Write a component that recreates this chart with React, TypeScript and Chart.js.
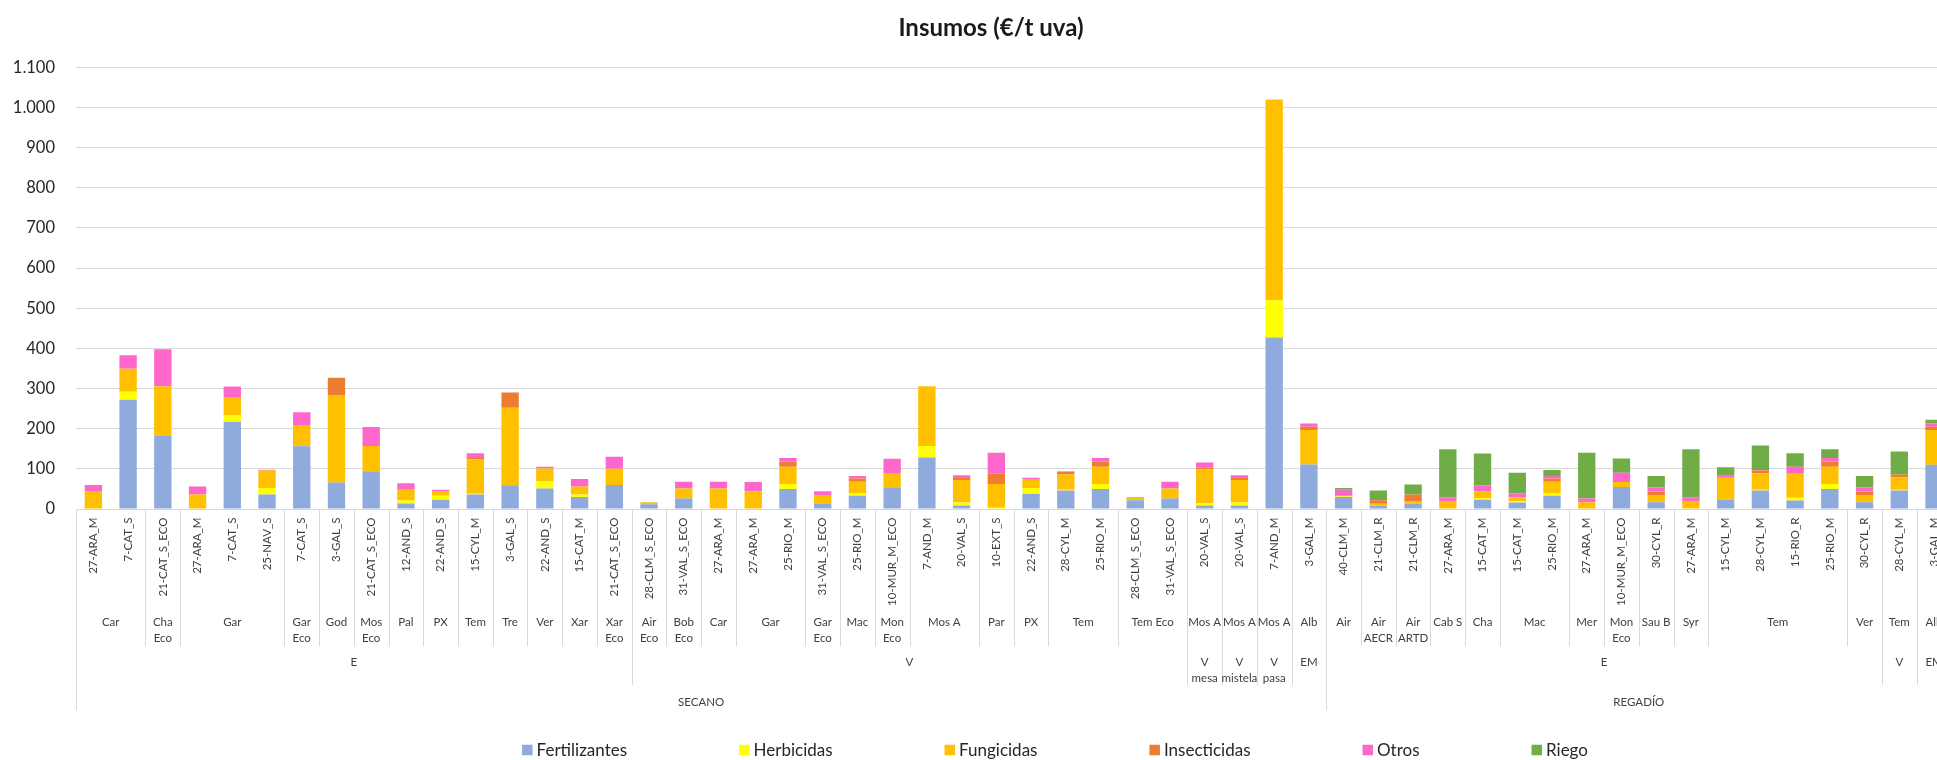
import React, { useEffect, useRef } from "react";
import { Chart, registerables } from "chart.js";

Chart.register(...registerables);

const chartTitle = "Insumos (€/t uva)";

const categories = [
  "27-ARA_M", "7-CAT_S", "21-CAT_S_ECO", "27-ARA_M", "7-CAT_S", "25-NAV_S", "7-CAT_S", "3-GAL_S",
  "21-CAT_S_ECO", "12-AND_S", "22-AND_S", "15-CYL_M", "3-GAL_S", "22-AND_S", "15-CAT_M", "21-CAT_S_ECO",
  "28-CLM_S_ECO", "31-VAL_S_ECO", "27-ARA_M", "27-ARA_M", "25-RIO_M", "31-VAL_S_ECO", "25-RIO_M", "10-MUR_M_ECO",
  "7-AND_M", "20-VAL_S", "10-EXT_S", "22-AND_S", "28-CYL_M", "25-RIO_M", "28-CLM_S_ECO", "31-VAL_S_ECO",
  "20-VAL_S", "20-VAL_S", "7-AND_M", "3-GAL_M",
  "40-CLM_M", "21-CLM_R", "21-CLM_R", "27-ARA_M", "15-CAT_M", "15-CAT_M", "25-RIO_M", "27-ARA_M",
  "10-MUR_M_ECO", "30-CYL_R", "27-ARA_M", "15-CYL_M", "28-CYL_M", "15-RIO_R", "25-RIO_M", "30-CYL_R",
  "28-CYL_M", "3-GAL_M",
];

const varietyLabels = [
  "Car", "Car", "Cha\nEco", "Gar", "Gar", "Gar", "Gar\nEco", "God",
  "Mos\nEco", "Pal", "PX", "Tem", "Tre", "Ver", "Xar", "Xar\nEco",
  "Air\nEco", "Bob\nEco", "Car", "Gar", "Gar", "Gar\nEco", "Mac", "Mon\nEco",
  "Mos A", "Mos A", "Par", "PX", "Tem", "Tem", "Tem Eco", "Tem Eco",
  "Mos A", "Mos A", "Mos A", "Alb",
  "Air", "Air\nAECR", "Air\nARTD", "Cab S", "Cha", "Mac", "Mac", "Mer",
  "Mon\nEco", "Sau B", "Syr", "Tem", "Tem", "Tem", "Tem", "Ver",
  "Tem", "Alb",
];

const typeLabels = [
  "E", "E", "E", "E", "E", "E", "E", "E", "E", "E", "E", "E", "E", "E", "E", "E",
  "V", "V", "V", "V", "V", "V", "V", "V", "V", "V", "V", "V", "V", "V", "V", "V",
  "V\nmesa", "V\nmistela", "V\npasa", "EM",
  "E", "E", "E", "E", "E", "E", "E", "E", "E", "E", "E", "E", "E", "E", "E", "E",
  "V", "EM",
];

const systemLabels = [
  ...Array(36).fill("SECANO"),
  ...Array(18).fill("REGADÍO"),
];

const fertilizantes = [
  0, 272, 183, 0, 217, 36, 156, 66, 94, 14, 23, 36, 59, 51, 30, 60,
  12, 26, 0, 0, 50, 14, 33, 54, 128, 9, 0, 38, 46, 50, 22, 26,
  9, 9, 427, 111,
  30, 8, 13, 0, 23, 16, 33, 0, 55, 17, 0, 23, 46, 21, 50, 17,
  46, 110,
];
const herbicidas = [
  0, 20, 0, 0, 16, 16, 0, 0, 0, 7, 10, 2, 0, 19, 6, 0,
  0, 0, 0, 0, 12, 0, 7, 0, 29, 7, 3, 14, 2, 12, 0, 0,
  6, 7, 93, 0,
  1, 0, 0, 0, 4, 3, 7, 0, 0, 0, 0, 0, 2, 7, 12, 0,
  2, 0,
];
const fungicidas = [
  45, 57, 123, 36, 46, 44, 53, 218, 63, 27, 12, 85, 193, 31, 20, 40,
  5, 25, 51, 44, 43, 21, 28, 34, 149, 56, 59, 23, 38, 43, 8, 25,
  84, 56, 500, 86,
  2, 5, 7, 18, 17, 10, 28, 17, 12, 18, 18, 55, 41, 60, 43, 18,
  31, 87,
];
const insecticidas = [
  0, 0, 0, 0, 0, 0, 0, 43, 0, 0, 0, 4, 38, 0, 0, 0,
  0, 0, 0, 0, 13, 0, 8, 0, 0, 5, 26, 0, 7, 13, 0, 0,
  4, 5, 0, 8,
  2, 9, 16, 0, 0, 0, 8, 0, 0, 8, 0, 2, 7, 0, 13, 8,
  7, 8,
];
const otros = [
  15, 34, 92, 20, 26, 2, 32, 0, 47, 16, 3, 12, 0, 4, 19, 30,
  0, 17, 17, 23, 9, 9, 6, 37, 0, 7, 52, 3, 1, 9, 0, 17,
  13, 7, 0, 8,
  13, 0, 0, 11, 15, 10, 6, 9, 23, 11, 11, 3, 1, 17, 9, 11,
  0, 8,
];
const riego = [
  0, 0, 0, 0, 0, 0, 0, 0, 0, 0, 0, 0, 0, 0, 0, 0,
  0, 0, 0, 0, 0, 0, 0, 0, 0, 0, 0, 0, 0, 0, 0, 0,
  0, 0, 0, 0,
  4, 24, 25, 120, 79, 51, 15, 114, 36, 28, 120, 21, 61, 34, 22, 28,
  57, 9,
];

const seriesNames = ["Fertilizantes", "Herbicidas", "Fungicidas", "Insecticidas", "Otros", "Riego"];
const seriesValues = [fertilizantes, herbicidas, fungicidas, insecticidas, otros, riego];
const seriesColors = ["#8FAADC", "#FFFF00", "#FFC000", "#ED7D31", "#FF66CC", "#70AD47"];

const yMax = 1100;
const yStep = 100;

const FONT = "Lato, 'Open Sans', 'DejaVu Sans', sans-serif";
const TEXT = "#404040";
const LINE = "#d9d9d9";

const formatThousands = (v: number) =>
  String(Math.round(v)).replace(/\B(?=(\d{3})+(?!\d))/g, ".");

const decorPlugin = {
  id: "decor",
  afterDraw(chart: any) {
    const ctx = chart.ctx as CanvasRenderingContext2D;
    const xs = chart.scales.x;
    const area = chart.chartArea;
    const n = categories.length;
    const px = (i: number) => xs.getPixelForValue(i);
    const half = (px(1) - px(0)) / 2;
    const baseY = area.bottom;

    ctx.save();

    // Title
    ctx.fillStyle = "#1a1a1a";
    ctx.font = `bold 24px ${FONT}`;
    ctx.textAlign = "center";
    ctx.textBaseline = "middle";
    ctx.fillText(chartTitle, 991, 28);

    // Rotated category labels
    ctx.fillStyle = TEXT;
    ctx.font = `11.5px ${FONT}`;
    for (let i = 0; i < n; i++) {
      ctx.save();
      ctx.translate(px(i), baseY + 8.5);
      ctx.rotate(-Math.PI / 2);
      ctx.textAlign = "right";
      ctx.textBaseline = "middle";
      ctx.fillText(categories[i], 0, 0);
      ctx.restore();
    }

    // Group levels
    const levels = [
      {
        labels: varietyLabels,
        key: (i: number) => systemLabels[i] + "|" + typeLabels[i] + "|" + varietyLabels[i],
        textY: baseY + 113.5,
        lineBottom: baseY + 137,
      },
      {
        labels: typeLabels,
        key: (i: number) => systemLabels[i] + "|" + typeLabels[i],
        textY: baseY + 153.5,
        lineBottom: baseY + 176,
      },
      {
        labels: systemLabels,
        key: (i: number) => systemLabels[i],
        textY: baseY + 193.5,
        lineBottom: baseY + 201,
      },
    ];

    ctx.strokeStyle = LINE;
    ctx.lineWidth = 1;
    const vline = (x: number, y2: number) => {
      const xx = Math.round(x) + 0.5;
      ctx.beginPath();
      ctx.moveTo(xx, baseY);
      ctx.lineTo(xx, y2);
      ctx.stroke();
    };

    ctx.textAlign = "center";
    ctx.textBaseline = "middle";
    for (const lv of levels) {
      let s = 0;
      for (let i = 1; i <= n; i++) {
        if (i === n || lv.key(i) !== lv.key(s)) {
          const e = i - 1;
          const left = px(s) - half;
          const right = px(e) + half;
          vline(left, lv.lineBottom);
          vline(right, lv.lineBottom);
          const lines = lv.labels[s].split("\n");
          const cx = (px(s) + px(e)) / 2;
          lines.forEach((t, k) => ctx.fillText(t, cx, lv.textY + k * 16));
          s = i;
        }
      }
    }

    // Legend
    ctx.font = `17px ${FONT}`;
    ctx.textAlign = "left";
    const box = 10.5;
    const boxGap = 4;
    const itemGap = 112;
    const widths = seriesNames.map((t) => box + boxGap + ctx.measureText(t).width);
    const total = widths.reduce((a, b) => a + b, 0) + itemGap * (seriesNames.length - 1);
    let x = 1055 - total / 2;
    const ly = 750;
    seriesNames.forEach((t, k) => {
      ctx.fillStyle = seriesColors[k];
      ctx.fillRect(x, ly - box / 2, box, box);
      ctx.fillStyle = "#262626";
      ctx.fillText(t, x + box + boxGap, ly + 1);
      x += widths[k] + itemGap;
    });

    ctx.restore();
  },
};

export default function App() {
  const ref = useRef<HTMLCanvasElement | null>(null);

  useEffect(() => {
    if (!ref.current) return;
    const chart = new Chart(ref.current, {
      type: "bar",
      data: {
        labels: categories,
        datasets: seriesNames.map((name, k) => ({
          label: name,
          data: seriesValues[k],
          backgroundColor: seriesColors[k],
          borderWidth: 0,
          categoryPercentage: 1,
          barPercentage: 0.5,
        })),
      },
      options: {
        responsive: false,
        animation: false,
        devicePixelRatio: 1,
        layout: { padding: { left: 0, top: 67.3, right: 8.6, bottom: 251 } },
        plugins: {
          legend: { display: false },
          title: { display: false },
          tooltip: { enabled: false },
        },
        scales: {
          x: {
            stacked: true,
            display: false,
            offset: true,
          },
          y: {
            stacked: true,
            min: 0,
            max: yMax,
            border: { display: false },
            grid: { color: LINE, lineWidth: 1, drawTicks: false },
            ticks: {
              stepSize: yStep,
              padding: 21,
              color: "#262626",
              font: { family: FONT, size: 16.5 },
              callback: (v: any) => formatThousands(Number(v)),
            },
            afterFit: (scale: any) => {
              scale.width = 76;
            },
          },
        },
      },
      plugins: [decorPlugin],
    });
    return () => chart.destroy();
  }, []);

  return (
    <div
      style={{
        position: "fixed",
        left: 0,
        top: 0,
        width: 1937,
        height: 760,
        overflow: "hidden",
        background: "#fff",
      }}
    >
      <canvas ref={ref} width={1960} height={760} style={{ display: "block", width: 1960, height: 760 }} />
    </div>
  );
}
